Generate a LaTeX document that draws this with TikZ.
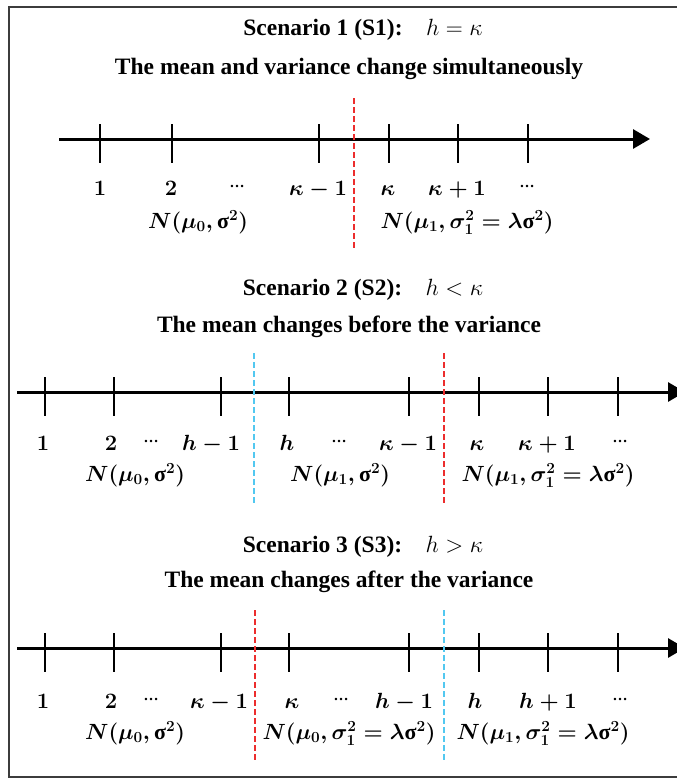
\RequirePackage{fix-cm}
\documentclass[tikz,border=0pt]{standalone}
\usepackage{amsmath}
\usepackage{fontspec}
\setmainfont{Liberation Serif}
\usepackage{tikz}
\usetikzlibrary{arrows.meta}
\definecolor{ruptR}{RGB}{236,45,45}
\definecolor{ruptB}{RGB}{82,200,240}
\definecolor{cadreC}{RGB}{60,60,60}
\newcommand{\pts}{\raisebox{8pt}{\fontsize{15}{15}\selectfont\bfseries …}}
\newcommand{\sig}{\text{\bfseries σ}}
\tikzset{
  titre/.style={anchor=base, inner sep=0pt, font=\fontsize{23.5}{26}\selectfont\bfseries},
  lab/.style={anchor=base, inner sep=0pt, font=\fontsize{22}{26}\selectfont\boldmath},
  loi/.style={anchor=base, inner sep=0pt, font=\fontsize{22}{26}\selectfont\boldmath},
  axe/.style={line width=3pt, -{Triangle[length=17pt, width=19pt]}},
  tic/.style={line width=2.4pt},
  rupt/.style={draw=#1, line width=2pt, dash pattern=on 6pt off 3pt},
}

\begin{document}
\begin{tikzpicture}[x=1pt, y=-1pt]
  \useasboundingbox (0,0) rectangle (677,780);
  \clip (0,0) rectangle (677,780);
  \draw[cadreC, line width=2.5pt] (9,7) rectangle (720,777);

  % scenario 1
  \node[titre] (t1) at (363,35) {Scenario 1 (S1):\quad$h=\kappa$};
  \node[titre] (s1) at (349,74) {The mean and variance change simultaneously};
  \coordinate (d1) at (59,139); \coordinate (f1) at (650,139);
  \draw[axe] (d1) -- (f1);
  \foreach \x in {100,172,319,389,458,528} \draw[tic] (\x,124) -- (\x,163);
  \foreach \x/\t [count=\i] in {100/$1$, 171/$2$, 237/\pts, 318/$\kappa-1$,
      388/$\kappa$, 457/$\kappa+1$, 527/\pts}
    \node[lab] (e1-\i) at (\x,195) {\t};
  \node[loi] (n1a) at (198,228) {$N(\mu_0,\sig^2)$};
  \node[loi] (n1b) at (467,228) {$N(\mu_1,\sigma_1^2=\lambda\sig^2)$};
  \coordinate (r1h) at (354,98); \coordinate (r1b) at (354,250);
  \draw[rupt=ruptR] (r1h) -- (r1b);

  % scenario 2
  \node[titre] (t2) at (363,295) {Scenario 2 (S2):\quad$h<\kappa$};
  \node[titre] (s2) at (349,332) {The mean changes before the variance};
  \coordinate (d2) at (17,392); \coordinate (f2) at (685,392);
  \draw[axe] (d2) -- (f2);
  \foreach \x in {45,114,221,289,409,479,548,618} \draw[tic] (\x,377) -- (\x,416);
  \foreach \x/\t [count=\i] in {43/$1$, 111/$2$, 151/\pts, 211/$h-1$, 287/$h$,
      339/\pts, 408/$\kappa-1$, 477/$\kappa$, 547/$\kappa+1$, 620/\pts}
    \node[lab] (e2-\i) at (\x,450) {\t};
  \node[loi] (n2a) at (135,481) {$N(\mu_0,\sig^2)$};
  \node[loi] (n2b) at (340,481) {$N(\mu_1,\sig^2)$};
  \node[loi] (n2c) at (548,481) {$N(\mu_1,\sigma_1^2=\lambda\sig^2)$};
  \coordinate (b2h) at (254,353); \coordinate (b2b) at (254,503);
  \coordinate (r2h) at (444,353); \coordinate (r2b) at (444,503);
  \draw[rupt=ruptB] (b2h) -- (b2b);
  \draw[rupt=ruptR] (r2h) -- (r2b);

  % scenario 3
  \node[titre] (t3) at (363,552) {Scenario 3 (S3):\quad$h>\kappa$};
  \node[titre] (s3) at (349,587) {The mean changes after the variance};
  \coordinate (d3) at (17,648); \coordinate (f3) at (685,648);
  \draw[axe] (d3) -- (f3);
  \foreach \x in {45,114,221,289,409,479,548,618} \draw[tic] (\x,633) -- (\x,672);
  \foreach \x/\t [count=\i] in {43/$1$, 111/$2$, 151/\pts, 219/$\kappa-1$, 292/$\kappa$,
      341/\pts, 404/$h-1$, 475/$h$, 548/$h+1$, 620/\pts}
    \node[lab] (e3-\i) at (\x,708) {\t};
  \node[loi] (n3a) at (135,739) {$N(\mu_0,\sig^2)$};
  \node[loi] (n3b) at (349,739) {$N(\mu_0,\sigma_1^2=\lambda\sig^2)$};
  \node[loi] (n3c) at (543,739) {$N(\mu_1,\sigma_1^2=\lambda\sig^2)$};
  \coordinate (r3h) at (255,610); \coordinate (r3b) at (255,760);
  \coordinate (b3h) at (444,610); \coordinate (b3b) at (444,760);
  \draw[rupt=ruptR] (r3h) -- (r3b);
  \draw[rupt=ruptB] (b3h) -- (b3b);
\end{tikzpicture}
\end{document}
